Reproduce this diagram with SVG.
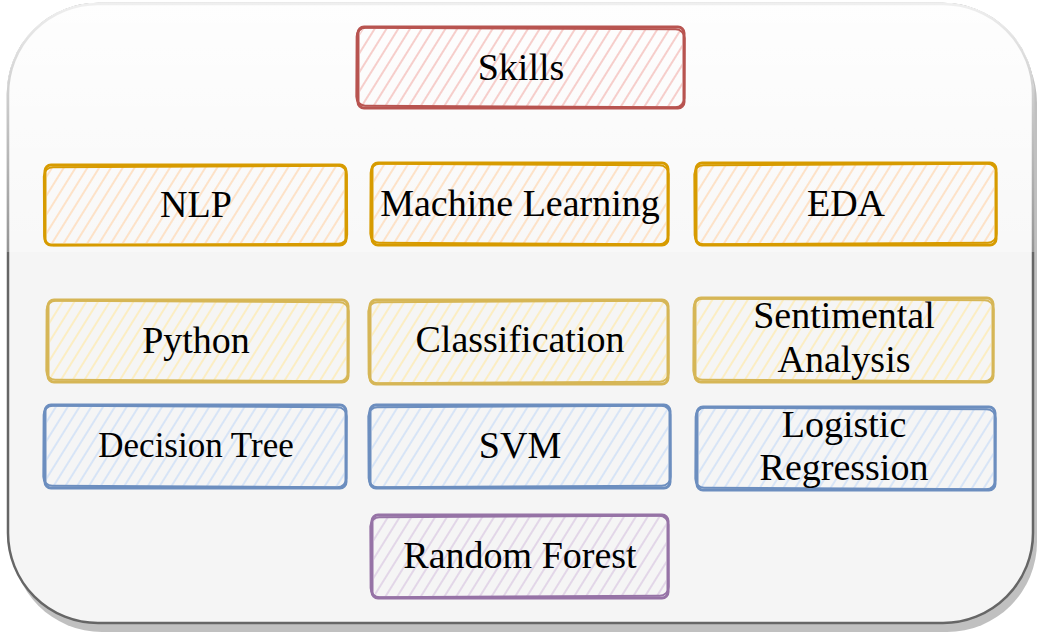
<svg xmlns="http://www.w3.org/2000/svg" width="1045" height="640" viewBox="0 0 1045 640">
<defs>
<linearGradient id="glass" x1="0" y1="0" x2="0" y2="1">
<stop offset="0" stop-color="#ffffff" stop-opacity="0.9"/>
<stop offset="1" stop-color="#ffffff" stop-opacity="0.3"/>
</linearGradient>
<pattern id="hRed" patternUnits="userSpaceOnUse" width="10" height="10" patternTransform="rotate(32)"><line x1="3" y1="0" x2="3" y2="10" stroke="#f3b5b0" stroke-width="1.3"/></pattern>
<pattern id="hOrange" patternUnits="userSpaceOnUse" width="10" height="10" patternTransform="rotate(32)"><line x1="3" y1="0" x2="3" y2="10" stroke="#ffd6ad" stroke-width="1.3"/></pattern>
<pattern id="hYellow" patternUnits="userSpaceOnUse" width="10" height="10" patternTransform="rotate(32)"><line x1="3" y1="0" x2="3" y2="10" stroke="#ffe9a8" stroke-width="1.3"/></pattern>
<pattern id="hBlue" patternUnits="userSpaceOnUse" width="10" height="10" patternTransform="rotate(32)"><line x1="3" y1="0" x2="3" y2="10" stroke="#c8dcf7" stroke-width="1.3"/></pattern>
<pattern id="hPurple" patternUnits="userSpaceOnUse" width="10" height="10" patternTransform="rotate(32)"><line x1="3" y1="0" x2="3" y2="10" stroke="#d8c6e1" stroke-width="1.3"/></pattern>
</defs>
<style>
text{font-family:"Liberation Serif","Times New Roman",serif;font-size:38px;fill:#000;text-anchor:middle}
.sk{fill:none;stroke-width:3;stroke-linejoin:round;stroke-linecap:round}
.sk2{fill:none;stroke-width:2;stroke-linejoin:round;stroke-linecap:round}
.red .sk,.red .sk2{stroke:#b85450}
.orange .sk,.orange .sk2{stroke:#d79b00}
.yellow .sk,.yellow .sk2{stroke:#d6b656}
.blue .sk,.blue .sk2{stroke:#6c8ebf}
.purple .sk,.purple .sk2{stroke:#9673a6}
.red .hf{fill:url(#hRed)}
.orange .hf{fill:url(#hOrange)}
.yellow .hf{fill:url(#hYellow)}
.blue .hf{fill:url(#hBlue)}
.purple .hf{fill:url(#hPurple)}
</style>
<g id="container">
<rect x="12" y="13" width="1025" height="619" rx="90" fill="#c0c0c0"/>
<rect x="8" y="4" width="1025" height="619" rx="90" fill="#f5f5f5" stroke="#666666" stroke-width="2.5"/>
<path d="M6.5 252 L6.5 94 A91.5 91.5 0 0 1 98 2.5 L943 2.5 A91.5 91.5 0 0 1 1034.5 94 L1034.5 252 Z" fill="url(#glass)"/>
</g>
<g id="connectors"/>
<g id="skills" class="red">
<rect class="hf" x="360" y="29" width="322" height="77" rx="5"/>
<rect class="sk" x="358" y="27" width="326" height="81" rx="6"/>
<rect class="sk2" x="356.5" y="28.5" width="328" height="78" rx="9" transform="rotate(0.3 521 67)"/>
<text x="521" y="80">Skills</text>
</g>
<g id="nlp" class="orange">
<rect class="hf" x="47" y="167" width="297" height="76" rx="5"/>
<rect class="sk" x="45" y="165" width="301" height="80" rx="6"/>
<rect class="sk2" x="44" y="166.5" width="303" height="78" rx="9" transform="rotate(-0.3 196 205)"/>
<text x="196" y="217">NLP</text>
</g>
<g id="ml" class="orange">
<rect class="hf" x="374" y="165" width="292" height="78" rx="5"/>
<rect class="sk" x="372" y="163" width="296" height="82" rx="6"/>
<rect class="sk2" x="370.5" y="164.5" width="298" height="79" rx="9" transform="rotate(0.3 520 204)"/>
<text x="520" y="216">Machine Learning</text>
</g>
<g id="eda" class="orange">
<rect class="hf" x="698" y="165" width="296" height="78" rx="5"/>
<rect class="sk" x="696" y="163" width="300" height="82" rx="6"/>
<rect class="sk2" x="694.5" y="164.5" width="302" height="79" rx="9" transform="rotate(-0.3 846 204)"/>
<text x="846" y="216">EDA</text>
</g>
<g id="python" class="yellow">
<rect class="hf" x="50" y="302" width="296" height="78" rx="5"/>
<rect class="sk" x="48" y="300" width="300" height="82" rx="6"/>
<rect class="sk2" x="46.5" y="301.5" width="302" height="79" rx="9" transform="rotate(0.3 198 341)"/>
<text x="196" y="353">Python</text>
</g>
<g id="classification" class="yellow">
<rect class="hf" x="372" y="302" width="294" height="80" rx="5"/>
<rect class="sk" x="370" y="300" width="298" height="84" rx="6"/>
<rect class="sk2" x="368.5" y="301.5" width="300" height="81" rx="9" transform="rotate(-0.3 519 342)"/>
<text x="520" y="352">Classification</text>
</g>
<g id="sentimental" class="yellow">
<rect class="hf" x="697" y="300" width="294" height="80" rx="5"/>
<rect class="sk" x="695" y="298" width="298" height="84" rx="6"/>
<rect class="sk2" x="693.5" y="299.5" width="300" height="81" rx="9" transform="rotate(0.3 844 340)"/>
<text x="844" y="328">Sentimental</text>
<text x="844" y="372">Analysis</text>
</g>
<g id="decision-tree" class="blue">
<rect class="hf" x="47" y="407" width="297" height="79" rx="5"/>
<rect class="sk" x="45" y="405" width="301" height="83" rx="6"/>
<rect class="sk2" x="43.5" y="406.5" width="303" height="80" rx="9" transform="rotate(0.3 196 446)"/>
<text x="196" y="457" style="font-size:35px">Decision Tree</text>
</g>
<g id="svm" class="blue">
<rect class="hf" x="372" y="407" width="296" height="79" rx="5"/>
<rect class="sk" x="370" y="405" width="300" height="83" rx="6"/>
<rect class="sk2" x="368.5" y="406.5" width="302" height="80" rx="9" transform="rotate(-0.3 520 446)"/>
<text x="520" y="458">SVM</text>
</g>
<g id="logistic" class="blue">
<rect class="hf" x="699" y="409" width="294" height="79" rx="5"/>
<rect class="sk" x="697" y="407" width="298" height="83" rx="6"/>
<rect class="sk2" x="695.5" y="408.5" width="300" height="80" rx="9" transform="rotate(0.3 846 448)"/>
<text x="844" y="437">Logistic</text>
<text x="844" y="480">Regression</text>
</g>
<g id="random-forest" class="purple">
<rect class="hf" x="374" y="517" width="292" height="79" rx="5"/>
<rect class="sk" x="372" y="515" width="296" height="83" rx="6"/>
<rect class="sk2" x="370.5" y="516.5" width="298" height="80" rx="9" transform="rotate(-0.3 520 556)"/>
<text x="520" y="568">Random Forest</text>
</g>
</svg>
